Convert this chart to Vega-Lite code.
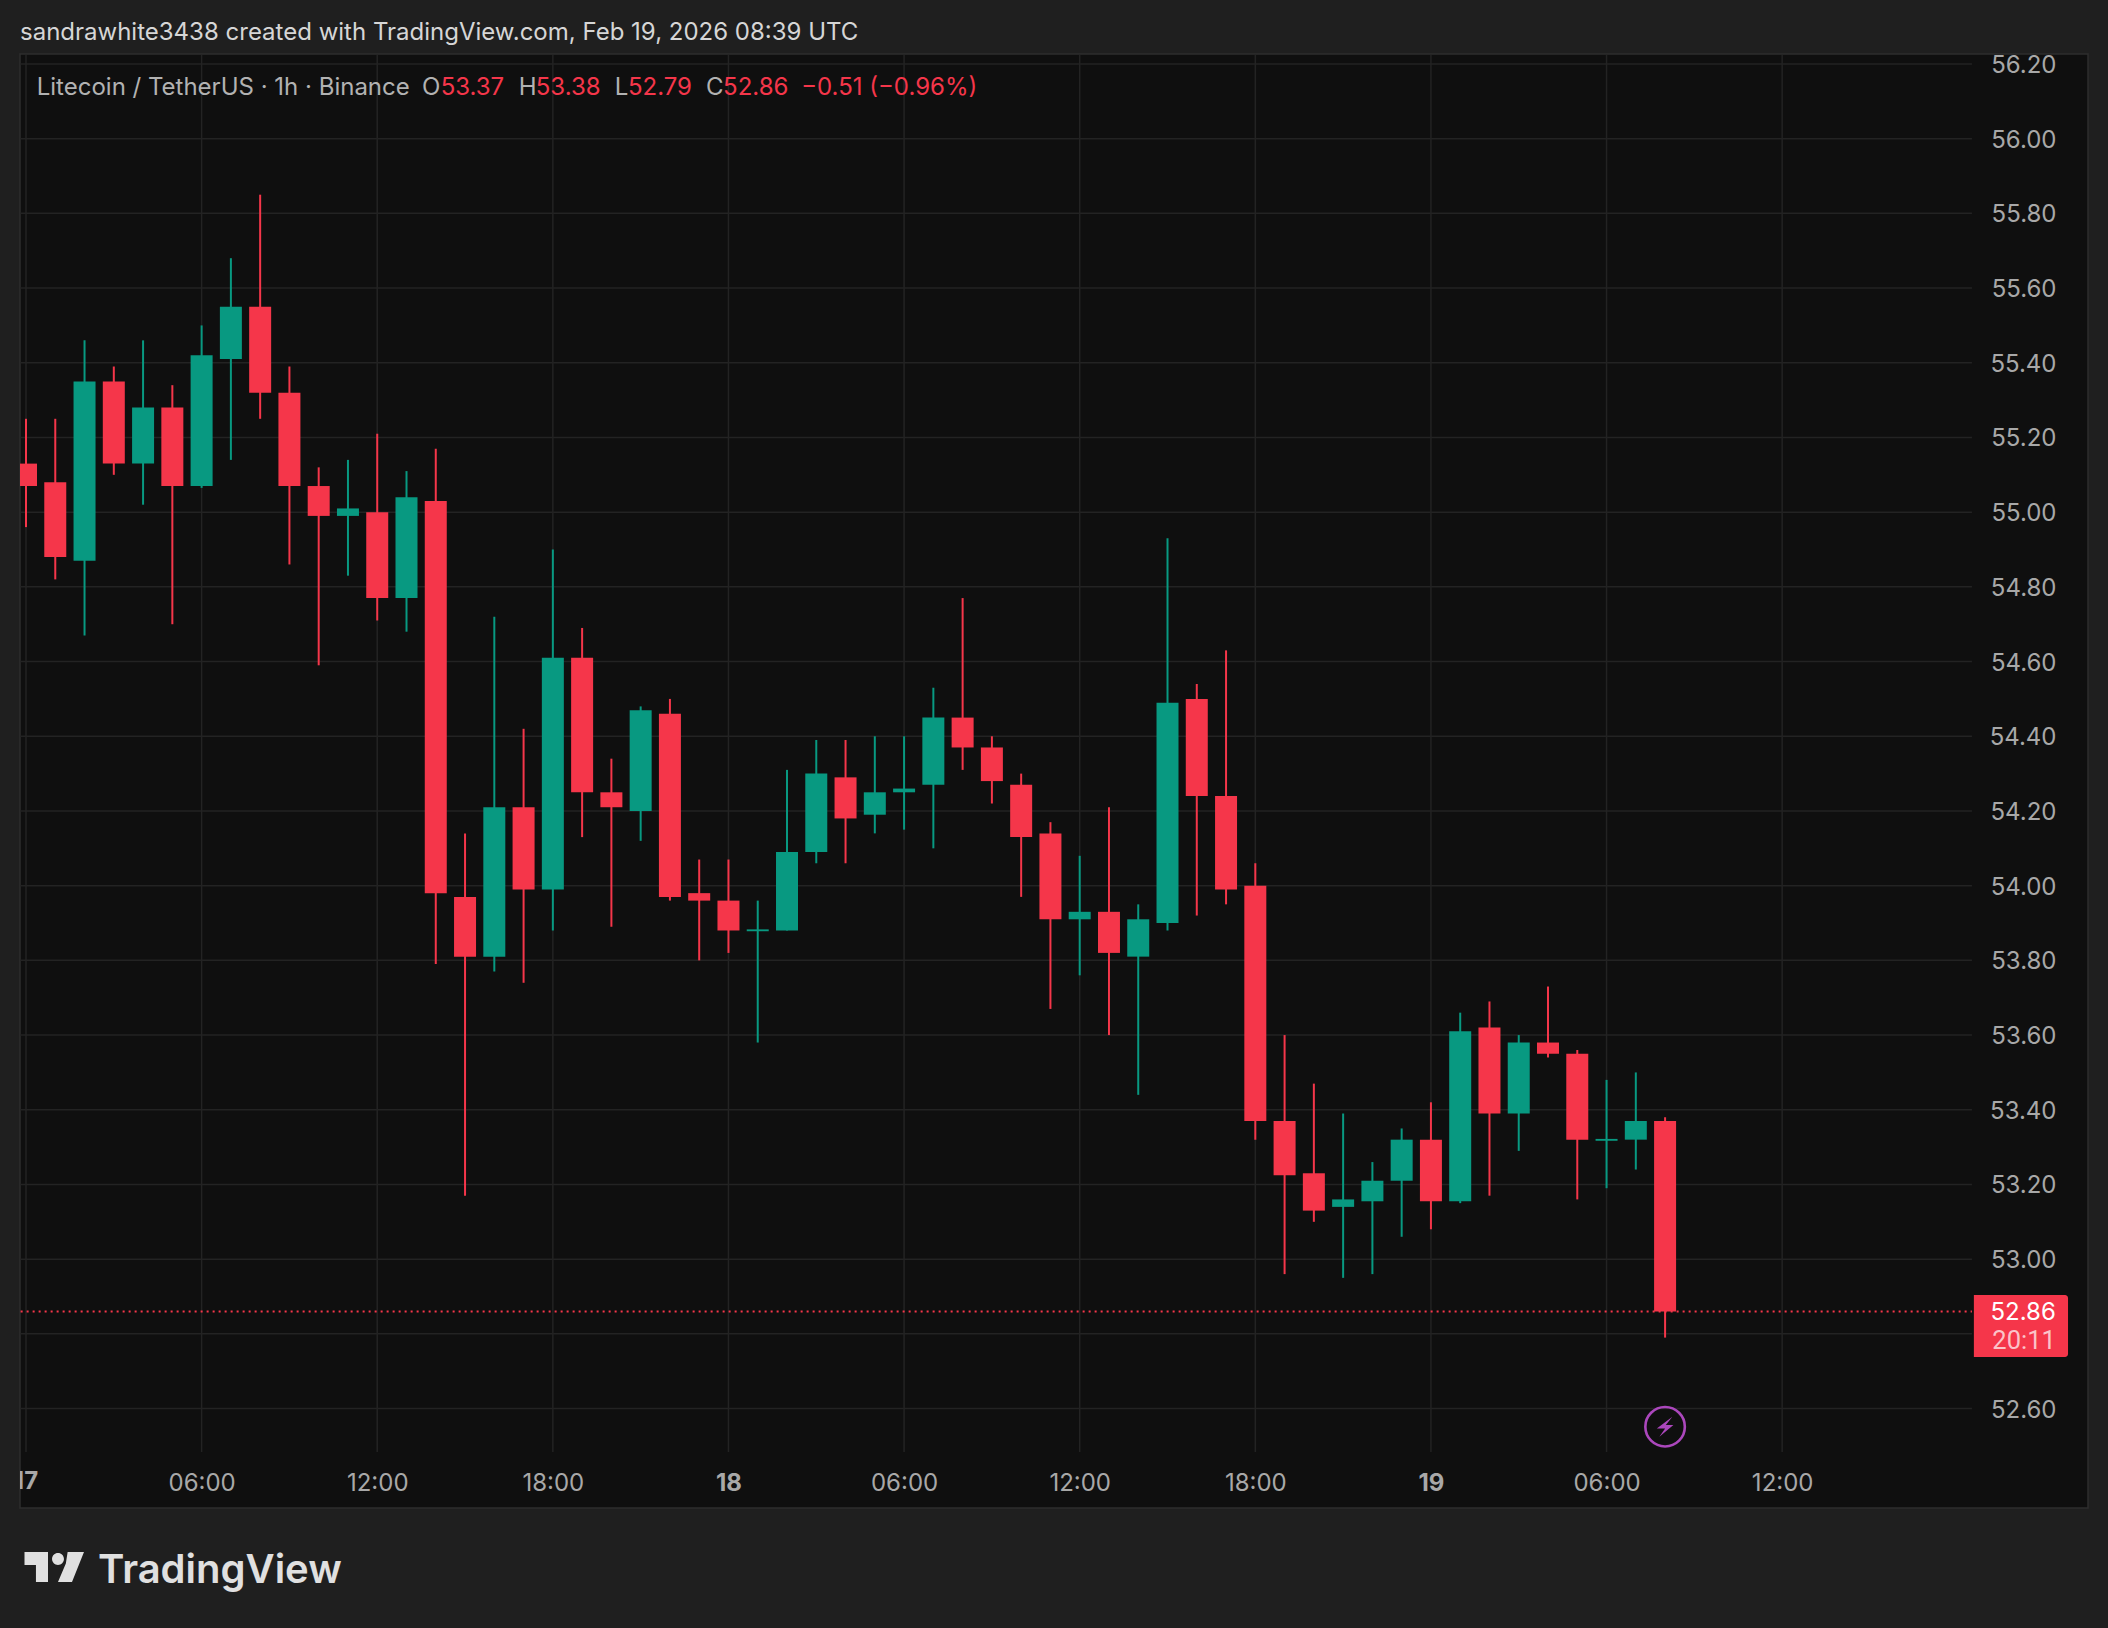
{
"$schema":"https://vega.github.io/schema/vega-lite/v6.json",
"width":2068,"height":1454,
"autosize":{"type":"none"},
"padding":{"left":20,"top":54,"right":20,"bottom":120},
"background":"#1f1f1f",
"view":{"fill":"#0f0f0f","stroke":"#2e2e2e","strokeWidth":1.5},
"title":{"text":"sandrawhite3438 created with TradingView.com, Feb 19, 2026 08:39 UTC","anchor":"start","frame":"group","font":"Inter","fontSize":24,"fontWeight":400,"color":"#d6d6d6","offset":8},
"datasets":{
"candles":[
{"t":"2026-02-17T00:00:00Z","o":55.13,"h":55.25,"l":54.96,"c":55.07,"dir":"down"},
{"t":"2026-02-17T01:00:00Z","o":55.08,"h":55.25,"l":54.82,"c":54.88,"dir":"down"},
{"t":"2026-02-17T02:00:00Z","o":54.87,"h":55.46,"l":54.67,"c":55.35,"dir":"up"},
{"t":"2026-02-17T03:00:00Z","o":55.35,"h":55.39,"l":55.10,"c":55.13,"dir":"down"},
{"t":"2026-02-17T04:00:00Z","o":55.13,"h":55.46,"l":55.02,"c":55.28,"dir":"up"},
{"t":"2026-02-17T05:00:00Z","o":55.28,"h":55.34,"l":54.70,"c":55.07,"dir":"down"},
{"t":"2026-02-17T06:00:00Z","o":55.07,"h":55.50,"l":55.065,"c":55.42,"dir":"up"},
{"t":"2026-02-17T07:00:00Z","o":55.41,"h":55.68,"l":55.14,"c":55.55,"dir":"up"},
{"t":"2026-02-17T08:00:00Z","o":55.55,"h":55.85,"l":55.25,"c":55.32,"dir":"down"},
{"t":"2026-02-17T09:00:00Z","o":55.32,"h":55.39,"l":54.86,"c":55.07,"dir":"down"},
{"t":"2026-02-17T10:00:00Z","o":55.07,"h":55.12,"l":54.59,"c":54.99,"dir":"down"},
{"t":"2026-02-17T11:00:00Z","o":54.99,"h":55.14,"l":54.83,"c":55.01,"dir":"up"},
{"t":"2026-02-17T12:00:00Z","o":55.00,"h":55.21,"l":54.71,"c":54.77,"dir":"down"},
{"t":"2026-02-17T13:00:00Z","o":54.77,"h":55.11,"l":54.68,"c":55.04,"dir":"up"},
{"t":"2026-02-17T14:00:00Z","o":55.03,"h":55.17,"l":53.79,"c":53.98,"dir":"down"},
{"t":"2026-02-17T15:00:00Z","o":53.97,"h":54.14,"l":53.17,"c":53.81,"dir":"down"},
{"t":"2026-02-17T16:00:00Z","o":53.81,"h":54.72,"l":53.77,"c":54.21,"dir":"up"},
{"t":"2026-02-17T17:00:00Z","o":54.21,"h":54.42,"l":53.74,"c":53.99,"dir":"down"},
{"t":"2026-02-17T18:00:00Z","o":53.99,"h":54.90,"l":53.88,"c":54.61,"dir":"up"},
{"t":"2026-02-17T19:00:00Z","o":54.61,"h":54.69,"l":54.13,"c":54.25,"dir":"down"},
{"t":"2026-02-17T20:00:00Z","o":54.25,"h":54.34,"l":53.89,"c":54.21,"dir":"down"},
{"t":"2026-02-17T21:00:00Z","o":54.20,"h":54.48,"l":54.12,"c":54.47,"dir":"up"},
{"t":"2026-02-17T22:00:00Z","o":54.46,"h":54.50,"l":53.96,"c":53.97,"dir":"down"},
{"t":"2026-02-17T23:00:00Z","o":53.98,"h":54.07,"l":53.80,"c":53.96,"dir":"down"},
{"t":"2026-02-18T00:00:00Z","o":53.96,"h":54.07,"l":53.82,"c":53.88,"dir":"down"},
{"t":"2026-02-18T01:00:00Z","o":53.878,"h":53.96,"l":53.58,"c":53.883,"dir":"up"},
{"t":"2026-02-18T02:00:00Z","o":53.88,"h":54.31,"l":53.88,"c":54.09,"dir":"up"},
{"t":"2026-02-18T03:00:00Z","o":54.09,"h":54.39,"l":54.06,"c":54.30,"dir":"up"},
{"t":"2026-02-18T04:00:00Z","o":54.29,"h":54.39,"l":54.06,"c":54.18,"dir":"down"},
{"t":"2026-02-18T05:00:00Z","o":54.19,"h":54.40,"l":54.14,"c":54.25,"dir":"up"},
{"t":"2026-02-18T06:00:00Z","o":54.25,"h":54.40,"l":54.15,"c":54.26,"dir":"up"},
{"t":"2026-02-18T07:00:00Z","o":54.27,"h":54.53,"l":54.10,"c":54.45,"dir":"up"},
{"t":"2026-02-18T08:00:00Z","o":54.45,"h":54.77,"l":54.31,"c":54.37,"dir":"down"},
{"t":"2026-02-18T09:00:00Z","o":54.37,"h":54.40,"l":54.22,"c":54.28,"dir":"down"},
{"t":"2026-02-18T10:00:00Z","o":54.27,"h":54.30,"l":53.97,"c":54.13,"dir":"down"},
{"t":"2026-02-18T11:00:00Z","o":54.14,"h":54.17,"l":53.67,"c":53.91,"dir":"down"},
{"t":"2026-02-18T12:00:00Z","o":53.91,"h":54.08,"l":53.76,"c":53.93,"dir":"up"},
{"t":"2026-02-18T13:00:00Z","o":53.93,"h":54.21,"l":53.60,"c":53.82,"dir":"down"},
{"t":"2026-02-18T14:00:00Z","o":53.81,"h":53.95,"l":53.44,"c":53.91,"dir":"up"},
{"t":"2026-02-18T15:00:00Z","o":53.90,"h":54.93,"l":53.88,"c":54.49,"dir":"up"},
{"t":"2026-02-18T16:00:00Z","o":54.50,"h":54.54,"l":53.92,"c":54.24,"dir":"down"},
{"t":"2026-02-18T17:00:00Z","o":54.24,"h":54.63,"l":53.95,"c":53.99,"dir":"down"},
{"t":"2026-02-18T18:00:00Z","o":54.00,"h":54.06,"l":53.32,"c":53.37,"dir":"down"},
{"t":"2026-02-18T19:00:00Z","o":53.37,"h":53.60,"l":52.96,"c":53.225,"dir":"down"},
{"t":"2026-02-18T20:00:00Z","o":53.23,"h":53.47,"l":53.10,"c":53.13,"dir":"down"},
{"t":"2026-02-18T21:00:00Z","o":53.14,"h":53.39,"l":52.95,"c":53.16,"dir":"up"},
{"t":"2026-02-18T22:00:00Z","o":53.155,"h":53.26,"l":52.96,"c":53.21,"dir":"up"},
{"t":"2026-02-18T23:00:00Z","o":53.21,"h":53.35,"l":53.06,"c":53.32,"dir":"up"},
{"t":"2026-02-19T00:00:00Z","o":53.32,"h":53.42,"l":53.08,"c":53.155,"dir":"down"},
{"t":"2026-02-19T01:00:00Z","o":53.155,"h":53.66,"l":53.15,"c":53.61,"dir":"up"},
{"t":"2026-02-19T02:00:00Z","o":53.62,"h":53.69,"l":53.17,"c":53.39,"dir":"down"},
{"t":"2026-02-19T03:00:00Z","o":53.39,"h":53.60,"l":53.29,"c":53.58,"dir":"up"},
{"t":"2026-02-19T04:00:00Z","o":53.58,"h":53.73,"l":53.54,"c":53.55,"dir":"down"},
{"t":"2026-02-19T05:00:00Z","o":53.55,"h":53.56,"l":53.16,"c":53.32,"dir":"down"},
{"t":"2026-02-19T06:00:00Z","o":53.317,"h":53.48,"l":53.19,"c":53.322,"dir":"up"},
{"t":"2026-02-19T07:00:00Z","o":53.32,"h":53.50,"l":53.24,"c":53.37,"dir":"up"},
{"t":"2026-02-19T08:00:00Z","o":53.37,"h":53.38,"l":52.79,"c":52.86,"dir":"down"}
],
"muted":[
{"t":"2026-02-17T00:22:00Z","p":56.136,"label":"Litecoin / TetherUS · 1h · Binance"},
{"t":"2026-02-17T13:32:00Z","p":56.136,"label":"O"},
{"t":"2026-02-17T16:50:00Z","p":56.136,"label":"H"},
{"t":"2026-02-17T20:07:00Z","p":56.136,"label":"L"},
{"t":"2026-02-17T23:14:00Z","p":56.136,"label":"C"}
],
"loud":[
{"t":"2026-02-17T14:10:00Z","p":56.136,"label":"53.37"},
{"t":"2026-02-17T17:25:00Z","p":56.136,"label":"53.38"},
{"t":"2026-02-17T20:34:00Z","p":56.136,"label":"52.79"},
{"t":"2026-02-17T23:49:00Z","p":56.136,"label":"52.86"},
{"t":"2026-02-18T02:29:00Z","p":56.136,"label":"−0.51 (−0.96%)"}
],
"gridY":[
{"t":"2026-02-16T23:49:00Z","t2":"2026-02-19T18:29:02Z","p":52.6},
{"t":"2026-02-16T23:49:00Z","t2":"2026-02-19T18:29:02Z","p":52.8},
{"t":"2026-02-16T23:49:00Z","t2":"2026-02-19T18:29:02Z","p":53.0},
{"t":"2026-02-16T23:49:00Z","t2":"2026-02-19T18:29:02Z","p":53.2},
{"t":"2026-02-16T23:49:00Z","t2":"2026-02-19T18:29:02Z","p":53.4},
{"t":"2026-02-16T23:49:00Z","t2":"2026-02-19T18:29:02Z","p":53.6},
{"t":"2026-02-16T23:49:00Z","t2":"2026-02-19T18:29:02Z","p":53.8},
{"t":"2026-02-16T23:49:00Z","t2":"2026-02-19T18:29:02Z","p":54.0},
{"t":"2026-02-16T23:49:00Z","t2":"2026-02-19T18:29:02Z","p":54.2},
{"t":"2026-02-16T23:49:00Z","t2":"2026-02-19T18:29:02Z","p":54.4},
{"t":"2026-02-16T23:49:00Z","t2":"2026-02-19T18:29:02Z","p":54.6},
{"t":"2026-02-16T23:49:00Z","t2":"2026-02-19T18:29:02Z","p":54.8},
{"t":"2026-02-16T23:49:00Z","t2":"2026-02-19T18:29:02Z","p":55.0},
{"t":"2026-02-16T23:49:00Z","t2":"2026-02-19T18:29:02Z","p":55.2},
{"t":"2026-02-16T23:49:00Z","t2":"2026-02-19T18:29:02Z","p":55.4},
{"t":"2026-02-16T23:49:00Z","t2":"2026-02-19T18:29:02Z","p":55.6},
{"t":"2026-02-16T23:49:00Z","t2":"2026-02-19T18:29:02Z","p":55.8},
{"t":"2026-02-16T23:49:00Z","t2":"2026-02-19T18:29:02Z","p":56.0},
{"t":"2026-02-16T23:49:00Z","t2":"2026-02-19T18:29:02Z","p":56.2}
],
"gridX":[
{"t":"2026-02-17T00:00:00Z","lo":52.4837,"hi":56.224},
{"t":"2026-02-17T06:00:00Z","lo":52.4837,"hi":56.224},
{"t":"2026-02-17T12:00:00Z","lo":52.4837,"hi":56.224},
{"t":"2026-02-17T18:00:00Z","lo":52.4837,"hi":56.224},
{"t":"2026-02-18T00:00:00Z","lo":52.4837,"hi":56.224},
{"t":"2026-02-18T06:00:00Z","lo":52.4837,"hi":56.224},
{"t":"2026-02-18T12:00:00Z","lo":52.4837,"hi":56.224},
{"t":"2026-02-18T18:00:00Z","lo":52.4837,"hi":56.224},
{"t":"2026-02-19T00:00:00Z","lo":52.4837,"hi":56.224},
{"t":"2026-02-19T06:00:00Z","lo":52.4837,"hi":56.224},
{"t":"2026-02-19T12:00:00Z","lo":52.4837,"hi":56.224}
]
},
"encoding":{
"x":{"field":"t","type":"temporal","title":null,
"scale":{"type":"utc","nice":false,"padding":0,"domain":["2026-02-16T23:47:42Z","2026-02-19T22:26:56Z"]},
"axis":{"values":["2026-02-17T00:00:00Z","2026-02-17T06:00:00Z","2026-02-17T12:00:00Z","2026-02-17T18:00:00Z","2026-02-18T00:00:00Z","2026-02-18T06:00:00Z","2026-02-18T12:00:00Z","2026-02-18T18:00:00Z","2026-02-19T00:00:00Z","2026-02-19T06:00:00Z","2026-02-19T12:00:00Z"],
"labelExpr":"utcFormat(datum.value,'%d')=='17' && utchours(datum.value)==0 ? '' : (utchours(datum.value)==0 ? utcFormat(datum.value,'%-d') : utcFormat(datum.value,'%H:%M'))",
"labelFontWeight":{"condition":{"test":"utchours(datum.value)==0","value":"bold"},"value":"normal"},
"labelFont":"Inter","labelFontSize":24,"labelColor":"#a8a8a8","labelBaseline":"middle","labelPadding":-25,"labelOverlap":false,"labelFlush":false,"labelBound":false,
"domain":false,"ticks":false,"tickSize":0,"grid":false,"zindex":2}},
"y":{"field":"p","type":"quantitative","title":null,
"scale":{"domain":[52.3338,56.2267],"nice":false,"zero":false},
"axis":{"orient":"right","values":[52.6,53.0,53.2,53.4,53.6,53.8,54.0,54.2,54.4,54.6,54.8,55.0,55.2,55.4,55.6,55.8,56.0,56.2],
"format":".2f","labelFont":"Inter","labelFontSize":24,"labelColor":"#a8a8a8","labelAlign":"right","labelBaseline":"middle","labelPadding":-32,"labelOffset":1.5,"labelOverlap":false,"labelFlush":false,"labelBound":false,
"domain":false,"ticks":false,"tickSize":0,"grid":false,"zindex":2}}
},
"layer":[
{"data":{"name":"gridY"},
"mark":{"type":"rule","color":"#232323","strokeWidth":1.5},
"encoding":{"x2":{"field":"t2"}}},
{"data":{"name":"gridX"},
"mark":{"type":"rule","color":"#232323","strokeWidth":1.5},
"encoding":{"y":{"field":"lo","type":"quantitative","title":null},"y2":{"field":"hi"}}},
{"data":{"name":"candles"},"mark":{"type":"rule","strokeWidth":2,"clip":true},
"encoding":{"y":{"field":"l","type":"quantitative","title":null},"y2":{"field":"h"},
"color":{"field":"dir","type":"nominal","legend":null,"scale":{"domain":["up","down"],"range":["#089981","#f5364a"]}}}},
{"data":{"values":[{"t":"2026-02-16T23:49:00Z","t2":"2026-02-19T18:29:02Z","p":52.86}]},
"mark":{"type":"rule","color":"#f5364a","strokeWidth":2,"strokeDash":[2,4]},
"encoding":{"x2":{"field":"t2"}}},
{"data":{"name":"candles"},"mark":{"type":"bar","size":22,"clip":true},
"encoding":{"y":{"field":"o","type":"quantitative","title":null},"y2":{"field":"c"},
"color":{"field":"dir","type":"nominal","legend":null,"scale":{"domain":["up","down"],"range":["#089981","#f5364a"]}}}},
{"data":{"values":[{"t":"2026-02-19T18:33:00Z","t2":"2026-02-19T21:46:00Z","p":52.904,"p2":52.738}]},
"mark":{"type":"rect","fill":"#f5364a","cornerRadiusTopRight":3,"cornerRadiusBottomRight":3},
"encoding":{"x2":{"field":"t2"},"y2":{"field":"p2"}}},
{"data":{"values":[{"t":"2026-02-19T21:21:00Z","p":52.855,"label":"52.86"}]},
"mark":{"type":"text","font":"Inter","fontSize":24,"align":"right","baseline":"middle","color":"#ffffff"},
"encoding":{"text":{"field":"label"}}},
{"data":{"values":[{"t":"2026-02-19T21:21:00Z","p":52.781,"label":"20:11"}]},
"mark":{"type":"text","font":"Roboto","fontSize":25.5,"align":"right","baseline":"middle","color":"#fbc3c9"},
"encoding":{"text":{"field":"label"}}},
{"data":{"values":[{"t":"2026-02-17T00:00:00Z","p":52.4034,"label":"17"}]},
"mark":{"type":"text","font":"Inter","fontSize":24,"fontWeight":"bold","align":"center","baseline":"middle","color":"#a8a8a8","clip":true},
"encoding":{"text":{"field":"label"}}},
{"data":{"name":"muted"},
"mark":{"type":"text","font":"Inter","fontSize":24,"align":"left","baseline":"middle","color":"#b2b2b2"},
"encoding":{"text":{"field":"label"}}},
{"data":{"name":"loud"},
"mark":{"type":"text","font":"Inter","fontSize":24,"align":"left","baseline":"middle","color":"#f5364a"},
"encoding":{"text":{"field":"label"}}},
{"data":{"values":[{"t":"2026-02-19T08:00:00Z","p":52.5515}]},
"mark":{"type":"point","shape":"circle","size":1560,"filled":false,"stroke":"#ab47bc","strokeWidth":2.6,"opacity":1}},
{"data":{"values":[{"t":"2026-02-19T08:00:00Z","p":52.5515}]},
"mark":{"type":"point","shape":"M0.73 -1 L-0.83 0.17 L0 0.17 L-0.57 1 L0.83 -0.17 L0.07 -0.17 Z","size":400,"filled":true,"fill":"#ab47bc","opacity":1}},
{"data":{"values":[{"t":"2026-02-17T00:57:54Z","p":52.1758}]},
"mark":{"type":"point","shape":"M-1 -0.504 L-0.21 -0.504 L-0.21 0.504 L-0.615 0.504 L-0.615 -0.067 L-1 -0.067 Z M-0.074 -0.269 A0.2 0.2 0 1 0 0.326 -0.269 A0.2 0.2 0 1 0 -0.074 -0.269 Z M0.45 -0.504 L1 -0.504 L0.597 0.504 L0.126 0.504 L0.39 -0.12 Z","size":3540,"filled":true,"fill":"#e0e0e0","opacity":1}},
{"data":{"values":[{"t":"2026-02-17T02:27:36Z","p":52.165,"label":"TradingView"}]},
"mark":{"type":"text","font":"Inter","fontSize":40,"fontWeight":600,"align":"left","baseline":"middle","color":"#e0e0e0"},
"encoding":{"text":{"field":"label"}}}
]
}
